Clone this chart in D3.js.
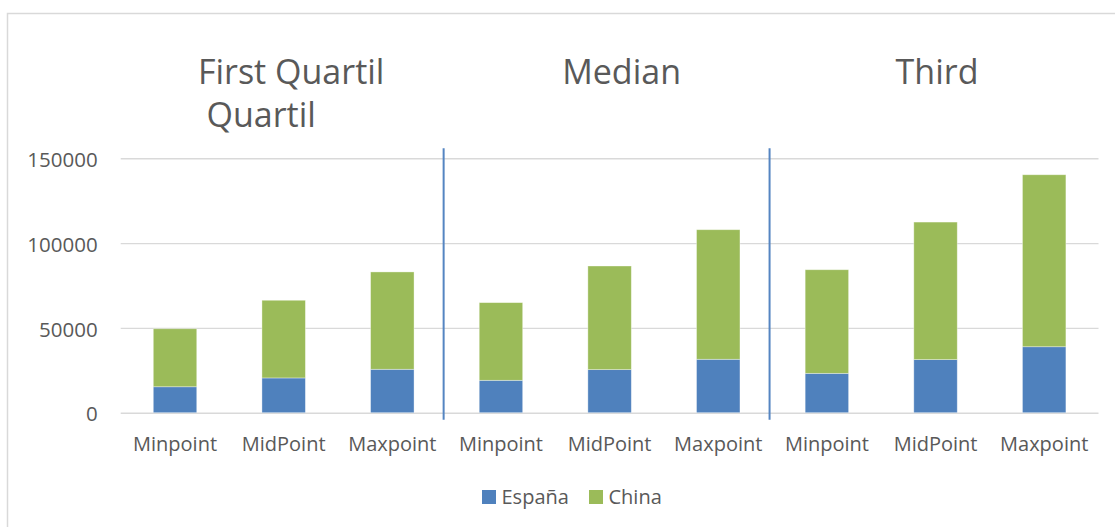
<!DOCTYPE html>
<html>
<head>
<meta charset="utf-8">
<script src="https://cdn.jsdelivr.net/npm/d3@7"></script>
<style>
  html, body { margin: 0; padding: 0; background: #fff; }
  svg { display: block; font-family: "Open Sans", "Noto Sans", sans-serif; }
</style>
</head>
<body>
<svg id="chart" width="1115" height="527"></svg>
<script>
// Salary bands per quartile group: bottom segment España, top segment China
const categories = ["Minpoint", "MidPoint", "Maxpoint", "Minpoint", "MidPoint", "Maxpoint", "Minpoint", "MidPoint", "Maxpoint"];
const groupTitles = [["First Quartil", "Quartil"], ["Median"], ["Third"]];
const espana = [15300, 20500, 25600, 19100, 25400, 31500, 23200, 31300, 38900];
const china = [34200, 45800, 57400, 45800, 61100, 76400, 61100, 81100, 101400];
const seriesNames = ["España", "China"];
const yTicks = [0, 50000, 100000, 150000];

const colors = ["#4f81bd", "#9bbb59"];
const textColor = "#595959";
const gridColor = "#d9d9d9";

const svg = d3.select("#chart");
const plot = { left: 120.7, right: 1098.5, top: 158.3, bottom: 412.7 };

// outer chart frame
svg.append("rect")
  .attr("x", 7.5).attr("y", 13.5)
  .attr("width", 1130).attr("height", 540)
  .attr("fill", "none").attr("stroke", gridColor).attr("stroke-width", 1.5);

const idx = d3.range(categories.length);
const x = d3.scaleBand().domain(idx).range([plot.left, plot.right])
  .paddingInner(0.6).paddingOuter(0.3);
const y = d3.scaleLinear().domain([0, 150000]).range([plot.bottom, plot.top]);

// y axis with gridlines
const yAxis = svg.append("g")
  .attr("transform", `translate(${plot.left},0)`)
  .call(d3.axisLeft(y).tickValues(yTicks).tickFormat(d3.format("d"))
    .tickSize(-(plot.right - plot.left)).tickPadding(23));
yAxis.select(".domain").remove();
yAxis.selectAll(".tick line").attr("stroke", gridColor).attr("stroke-width", 1.4);
yAxis.selectAll(".tick text")
  .attr("fill", textColor).attr("font-size", 20.5)
  .attr("font-family", "'Open Sans', sans-serif")
  .attr("dy", "0.4em");

// stacked bars
const rows = idx.map(i => ({ i, "España": espana[i], "China": china[i] }));
const stacked = d3.stack().keys(seriesNames)(rows);
svg.append("g").selectAll("g")
  .data(stacked).join("g")
  .attr("fill", (d, k) => colors[k])
  .selectAll("rect")
  .data(d => d).join("rect")
  .attr("x", d => x(d.data.i))
  .attr("width", x.bandwidth())
  .attr("y", d => y(d[1]))
  .attr("height", d => y(d[0]) - y(d[1]))
  .attr("stroke", "#ffffff").attr("stroke-opacity", 0.45).attr("stroke-width", 0.8);

// x axis labels
const xAxis = svg.append("g")
  .attr("transform", `translate(0,${plot.bottom})`)
  .call(d3.axisBottom(x).tickFormat(i => categories[i]).tickSize(0).tickPadding(24));
xAxis.select(".domain").remove();
xAxis.selectAll(".tick text")
  .attr("fill", textColor).attr("font-size", 20)
  .attr("font-family", "'Open Sans', sans-serif")
  .attr("dy", "0.71em");

// separators between the three groups
const step = x.step();
[3, 6].forEach(g => {
  const sx = x(g) - step * x.paddingInner() / 2 - 3;
  svg.append("line")
    .attr("x1", sx).attr("x2", sx)
    .attr("y1", plot.top - 10).attr("y2", plot.bottom + 7)
    .attr("stroke", "#5585c2").attr("stroke-width", 2);
});

// group titles (wrapped titles share one text element)
const titleShift = [7.5, 12, 1.5];
const secondLineShift = -30;
groupTitles.forEach((lines, g) => {
  const cx = x(g * 3 + 1) + x.bandwidth() / 2 + titleShift[g];
  const t = svg.append("text")
    .attr("text-anchor", "middle")
    .attr("font-size", 34)
    .attr("fill", textColor);
  lines.forEach((line, li) => {
    t.append("tspan")
      .attr("x", cx + (li > 0 ? secondLineShift : 0))
      .attr("y", 84 + li * 42.5)
      .text(line);
  });
});

// legend
const legend = svg.append("g");
const legendItems = [
  { name: seriesNames[0], color: colors[0], x: 482 },
  { name: seriesNames[1], color: colors[1], x: 589 }
];
legendItems.forEach(it => {
  legend.append("rect")
    .attr("x", it.x).attr("y", 490)
    .attr("width", 14).attr("height", 14)
    .attr("fill", it.color);
  legend.append("text")
    .attr("x", it.x + 19.5).attr("y", 504)
    .attr("font-size", 20).attr("fill", textColor)
    .text(it.name);
});
</script>
</body>
</html>
